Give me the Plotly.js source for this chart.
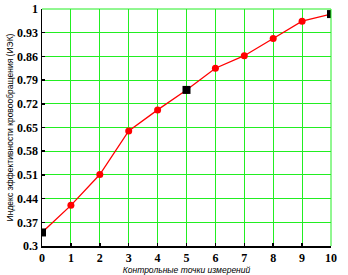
<!DOCTYPE html>
<html>
<head>
<meta charset="utf-8">
<script src="https://cdn.plot.ly/plotly-3.0.1.min.js"></script>
<style>html,body{margin:0;padding:0;background:#fff}#chart{width:348px;height:275px}</style>
</head>
<body>
<div id="chart"></div>
<script>
const points = [0, 1, 2, 3, 4, 5, 6, 7, 8, 9, 10];
const iek = [0.340, 0.420, 0.511, 0.640, 0.702, 0.761, 0.825, 0.862, 0.913, 0.964, 0.985];
const keyPoints = [0, 5, 10];
const keyValues = [0.340, 0.761, 0.985];
const yTickVals = [0.3, 0.37, 0.44, 0.51, 0.58, 0.65, 0.72, 0.79, 0.86, 0.93, 1];
const yTickText = ["0.3", "0.37", "0.44", "0.51", "0.58", "0.65", "0.72", "0.79", "0.86", "0.93", "1"];
const xTickVals = [0, 1, 2, 3, 4, 5, 6, 7, 8, 9, 10];

const serif = '"Liberation Serif", "Times New Roman", serif';
const traces = [
  {x: points, y: iek, type: 'scatter', mode: 'lines+markers',
   line: {color: '#ff0000', width: 1.3},
   marker: {color: '#ff0000', size: 7, symbol: 'circle'},
   hoverinfo: 'none'},
  {x: keyPoints, y: keyValues, type: 'scatter', mode: 'markers',
   marker: {color: '#000000', size: 8, symbol: 'square'},
   hoverinfo: 'none'}
];

const layout = {
  width: 348, height: 275,
  margin: {l: 42, r: 17, t: 9, b: 29},
  paper_bgcolor: '#ffffff', plot_bgcolor: '#ffffff',
  showlegend: false,
  font: {family: serif, color: '#000'},
  xaxis: {
    range: [0, 10], tickvals: xTickVals, ticktext: xTickVals.map(String),
    showgrid: true, gridcolor: '#22ee22', gridwidth: 1,
    zeroline: false, showline: true, linecolor: '#000', linewidth: 1.5,
    ticks: 'inside', ticklen: 3, tickcolor: '#000', tickwidth: 1.5,
    tickfont: {family: serif, size: 12, color: '#000', weight: 'bold'},
    title: {text: 'Контрольные точки измерений', standoff: 4,
            font: {family: 'Liberation Sans, Arial, sans-serif', size: 8.5, style: 'italic', color: '#000'}}
  },
  yaxis: {
    range: [0.3, 1], tickvals: yTickVals, ticktext: yTickText,
    showgrid: true, gridcolor: '#22ee22', gridwidth: 1,
    zeroline: false, showline: true, linecolor: '#000', linewidth: 1.5,
    ticks: 'inside', ticklen: 3, tickcolor: '#000', tickwidth: 1.5,
    tickfont: {family: serif, size: 12, color: '#000', weight: 'bold'},
    title: {text: 'Индекс эффективности кровообращения (ИЭК)', standoff: 2,
            font: {family: 'Liberation Sans, Arial, sans-serif', size: 8.5, color: '#000'}}
  },
  shapes: [
    {type: 'line', xref: 'paper', yref: 'paper', x0: 1, x1: 1, y0: 0, y1: 1, line: {color: '#22ee22', width: 1}},
    {type: 'line', xref: 'paper', yref: 'paper', x0: 0, x1: 1, y0: 1, y1: 1, line: {color: '#22ee22', width: 1}}
  ]
};

Plotly.newPlot('chart', traces, layout, {staticPlot: true, displayModeBar: false});
</script>
</body>
</html>
